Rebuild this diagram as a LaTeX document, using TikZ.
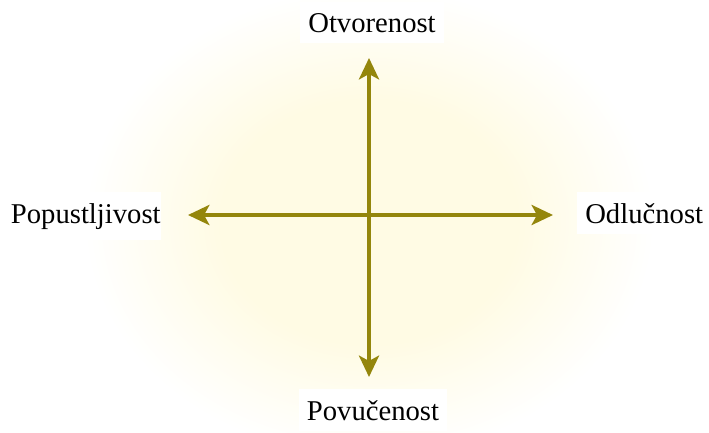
\documentclass[tikz,border=0pt]{standalone}
\usepackage{fontspec}
\setmainfont{Liberation Serif}
\usetikzlibrary{arrows.meta}
\definecolor{axisolive}{RGB}{148,134,12}
\definecolor{glowyellow}{RGB}{255,251,228}
\pgfdeclareradialshading{softglow}{\pgfpoint{0bp}{0bp}}{color(0bp)=(glowyellow); color(13bp)=(glowyellow); color(25bp)=(white); color(50bp)=(white)}
\begin{document}
\begin{tikzpicture}[x=0.75pt,y=0.75pt,yscale=-1,xscale=1,
  axislabel/.style={fill=white,inner xsep=6pt,inner ysep=8pt,font=\fontsize{21.5}{26}\selectfont},
  axisline/.style={draw=axisolive,line width=3pt,{Stealth[length=16pt,width=15pt,inset=4pt]}-{Stealth[length=16pt,width=15pt,inset=4pt]}}]
\useasboundingbox (0,0) rectangle (709,432);
%set diagram left start at 0, and has height of 432

%Shape: Glow
\shade [shading=softglow] (369,222) ellipse (285 and 235);

% Text Node
\node (otv) [axislabel,anchor=base] at (372,32) {Otvorenost};
% Text Node
\node (pov) [axislabel,anchor=base] at (373,420) {Povučenost};
% Text Node
\node (pop) [axislabel,anchor=base west,inner xsep=0pt] at (8,223) {\hspace{2pt}Popustljivost\hspace{15pt}};
% Text Node
\node (odl) [axislabel,anchor=base west] at (577,223) {Odlučnost};

\coordinate (top) at (369,58);
\coordinate (bot) at (369,377);
\coordinate (lft) at (188,215);
\coordinate (rgt) at (553,215);

%Straight Lines
\draw [axisline] (bot) -- (top);
%Straight Lines
\draw [axisline] (lft) -- (rgt);

\end{tikzpicture}
\end{document}
